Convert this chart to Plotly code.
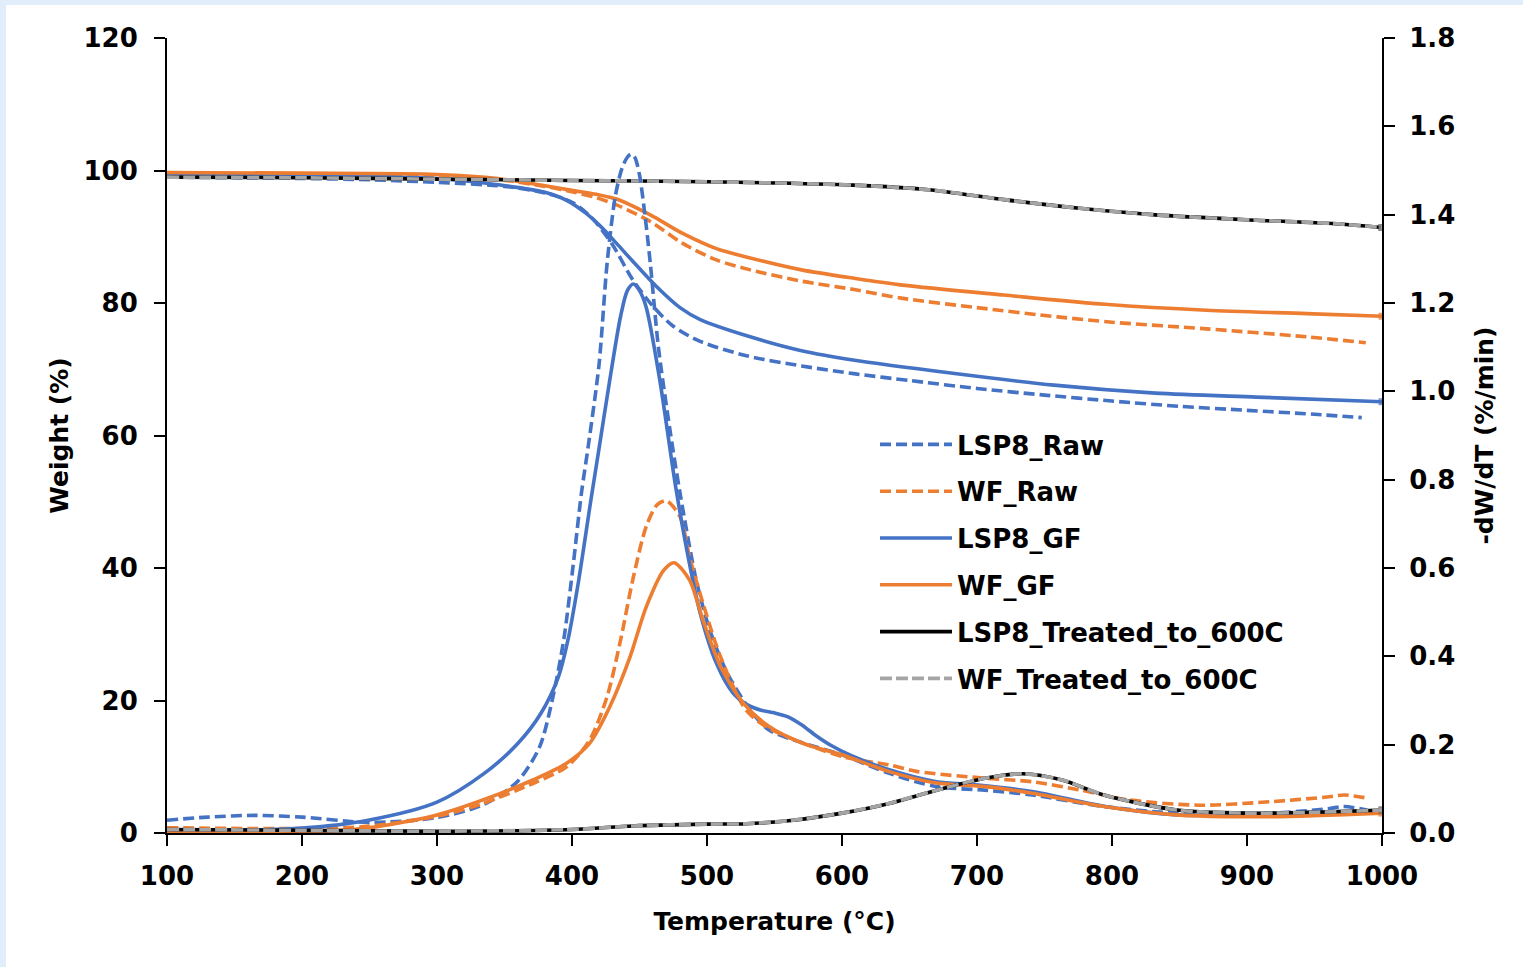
import plotly.graph_objects as go

# ---------------- data ----------------
# Weight (%) curves
lsp8_raw_w_T = [100, 150, 200, 250, 300, 350, 380, 400, 415, 430, 445, 460, 475, 495, 530, 570, 610, 650, 700, 750, 800, 850, 900, 950, 985]
lsp8_raw_w = [99.0, 98.9, 98.8, 98.6, 98.2, 97.6, 96.6, 95.2, 92.8, 88.8, 83.5, 79.5, 76.5, 74.2, 72.0, 70.5, 69.3, 68.3, 67.1, 66.1, 65.2, 64.4, 63.8, 63.2, 62.7]

wf_raw_w_T = [100, 200, 300, 350, 380, 400, 418, 433, 458, 482, 507, 532, 570, 610, 645, 700, 760, 800, 870, 944, 988]
wf_raw_w = [99.5, 99.3, 99.0, 98.5, 97.6, 96.8, 95.9, 94.8, 92.3, 89.0, 86.5, 85.0, 83.3, 82.0, 80.7, 79.3, 77.9, 77.1, 76.1, 74.9, 74.0]

lsp8_gf_w_T = [100, 200, 300, 347, 380, 396, 410, 421, 433, 445, 462, 480, 495, 532, 570, 608, 682, 757, 832, 907, 1000]
lsp8_gf_w = [99.5, 99.3, 98.8, 97.8, 96.7, 95.5, 93.6, 91.6, 89.0, 86.3, 82.6, 79.3, 77.5, 74.9, 72.8, 71.4, 69.4, 67.6, 66.4, 65.8, 65.1]

wf_gf_w_T = [100, 200, 300, 345, 380, 400, 418, 433, 458, 482, 507, 532, 570, 610, 645, 720, 795, 870, 944, 1000]
wf_gf_w = [99.7, 99.6, 99.4, 98.8, 97.7, 97.0, 96.4, 95.7, 93.3, 90.5, 88.2, 86.8, 85.0, 83.7, 82.7, 81.2, 79.8, 78.9, 78.4, 78.0]

lsp8_tr_w_T = [100, 200, 300, 400, 500, 608, 664, 720, 776, 832, 907, 963, 1000]
lsp8_tr_w = [99.0, 98.9, 98.7, 98.5, 98.3, 97.8, 97.1, 95.6, 94.3, 93.3, 92.5, 92.0, 91.4]
wf_tr_w_T = [100, 200, 300, 400, 500, 608, 664, 720, 776, 832, 907, 963, 1000]
wf_tr_w = [99.0, 98.9, 98.7, 98.5, 98.3, 97.8, 97.1, 95.6, 94.3, 93.3, 92.5, 92.0, 91.4]

# -dW/dT (%/min) curves
lsp8_raw_d_T = [100, 130, 165, 200, 250, 300, 335, 360, 376, 386, 394, 401, 407, 412, 420, 426, 432, 437, 441, 443.7, 446.5, 450, 454, 458, 464, 472.6, 480, 492, 502, 515, 532, 546, 570, 600, 635, 670, 706, 741, 794, 848, 918, 960, 972, 989]
lsp8_raw_d = [0.029, 0.036, 0.040, 0.036, 0.024, 0.035, 0.065, 0.118, 0.195, 0.31, 0.44, 0.61, 0.77, 0.875, 1.06, 1.29, 1.44, 1.505, 1.53, 1.537, 1.53, 1.49, 1.40, 1.29, 1.10, 0.912, 0.77, 0.573, 0.46, 0.362, 0.278, 0.233, 0.205, 0.177, 0.135, 0.105, 0.097, 0.086, 0.060, 0.045, 0.045, 0.055, 0.060, 0.052]

wf_raw_d_T = [100, 200, 248, 300, 334, 371, 396, 413, 426, 436, 445, 455, 463, 470, 480, 487, 497, 510, 529, 546, 600, 635, 656, 706, 741, 777, 812, 865, 918, 961, 972, 989]
wf_raw_d = [0.012, 0.010, 0.015, 0.038, 0.067, 0.112, 0.150, 0.210, 0.309, 0.437, 0.573, 0.694, 0.743, 0.752, 0.716, 0.626, 0.520, 0.399, 0.278, 0.237, 0.173, 0.154, 0.139, 0.124, 0.116, 0.097, 0.075, 0.063, 0.071, 0.082, 0.086, 0.079]

lsp8_gf_d_T = [100, 150, 200, 249, 300, 335, 360, 377, 390, 397, 405, 414, 420, 428, 436, 441, 445.4, 450, 455, 465, 477, 487, 495, 507, 519, 530, 540, 550, 560, 570, 580, 592, 607, 635, 670, 699, 741, 795, 848, 901, 954, 1000]
lsp8_gf_d = [0.005, 0.006, 0.011, 0.029, 0.070, 0.135, 0.203, 0.271, 0.354, 0.437, 0.573, 0.754, 0.870, 1.026, 1.17, 1.228, 1.243, 1.228, 1.19, 1.026, 0.78, 0.61, 0.497, 0.384, 0.318, 0.290, 0.278, 0.272, 0.263, 0.245, 0.222, 0.198, 0.175, 0.143, 0.116, 0.109, 0.094, 0.060, 0.041, 0.041, 0.048, 0.048]

wf_gf_d_T = [100, 200, 248, 300, 334, 371, 396, 413, 428, 443, 455, 468, 475.6, 487, 497, 510, 527, 546, 571, 600, 635, 670, 706, 741, 794, 848, 918, 1000]
wf_gf_d = [0.0, 0.002, 0.011, 0.041, 0.075, 0.120, 0.158, 0.203, 0.286, 0.399, 0.512, 0.595, 0.612, 0.573, 0.482, 0.377, 0.294, 0.241, 0.203, 0.177, 0.139, 0.113, 0.105, 0.090, 0.060, 0.041, 0.037, 0.045]

lsp8_tr_d_T = [100, 200, 300, 400, 445, 500, 529, 564, 600, 635, 670, 706, 734, 763, 794, 848, 901, 950, 1000]
lsp8_tr_d = [0.008, 0.006, 0.004, 0.008, 0.016, 0.020, 0.021, 0.029, 0.045, 0.067, 0.097, 0.124, 0.134, 0.120, 0.086, 0.052, 0.045, 0.047, 0.052]
wf_tr_d_T = [100, 200, 300, 400, 445, 500, 529, 564, 600, 635, 670, 706, 734, 763, 794, 848, 901, 950, 1000]
wf_tr_d = [0.008, 0.006, 0.004, 0.008, 0.016, 0.020, 0.021, 0.029, 0.045, 0.067, 0.097, 0.124, 0.134, 0.120, 0.086, 0.052, 0.045, 0.047, 0.052]

x_ticks = [100, 200, 300, 400, 500, 600, 700, 800, 900, 1000]

# ---------------- styling ----------------
BLUE = "#4472C4"
ORANGE = "#ED7D31"
GREY = "#A5A5A5"
BLACK = "#000000"
FONT = "DejaVu Sans"
LW = 3.6
DASH = "11px,5px"

series = [
    ("LSP8_Raw", lsp8_raw_w_T, lsp8_raw_w, lsp8_raw_d_T, lsp8_raw_d, BLUE, DASH, False),
    ("WF_Raw", wf_raw_w_T, wf_raw_w, wf_raw_d_T, wf_raw_d, ORANGE, DASH, False),
    ("LSP8_GF", lsp8_gf_w_T, lsp8_gf_w, lsp8_gf_d_T, lsp8_gf_d, BLUE, "solid", True),
    ("WF_GF", wf_gf_w_T, wf_gf_w, wf_gf_d_T, wf_gf_d, ORANGE, "solid", True),
    ("LSP8_Treated_to_600C", lsp8_tr_w_T, lsp8_tr_w, lsp8_tr_d_T, lsp8_tr_d, BLACK, "solid", True),
    ("WF_Treated_to_600C", wf_tr_w_T, wf_tr_w, wf_tr_d_T, wf_tr_d, GREY, "12px,4px", True),
]

fig = go.Figure()
for name, wT, w, dT, d, color, dash, endmark in series:
    for (xs, ys, yax, show) in [(wT, w, "y", True), (dT, d, "y2", False)]:
        sizes = [0] * (len(xs) - 1) + ([7] if endmark else [0])
        fig.add_trace(go.Scatter(
            x=xs, y=ys, yaxis=yax, name=name, legendgroup=name, showlegend=show,
            mode="lines+markers",
            line=dict(color=color, width=LW, dash=dash, shape="spline", smoothing=0.8),
            marker=dict(symbol="square", size=sizes, color=color, line=dict(width=0)),
        ))

W, H = 1523, 967
L, R, T, B = 167, 141, 38, 134
pw, ph = W - L - R, H - T - B

def px_x(p):
    return (p - L) / pw

def px_y(p):
    return (H - B - p) / ph

tickfont = dict(family=FONT, size=26, color="black", weight="bold")
titlefont = dict(family=FONT, size=25, color="black", weight="bold")

fig.update_layout(
    width=W, height=H, autosize=False,
    margin=dict(l=L, r=R, t=T, b=B, pad=0),
    paper_bgcolor="#e2edfb",
    plot_bgcolor="white",
    showlegend=True,
    legend=dict(
        x=px_x(875), y=px_y(421), xanchor="left", yanchor="top",
        bgcolor="rgba(0,0,0,0)", borderwidth=0,
        font=dict(family=FONT, size=26, color="black", weight="bold"),
        itemwidth=72, tracegroupgap=10,
    ),
    xaxis=dict(
        range=[100, 1000], tickvals=x_ticks, ticktext=[str(v) for v in x_ticks],
        showgrid=False, zeroline=False, showline=True, linecolor="black", linewidth=2,
        ticks="outside", ticklen=11, tickwidth=2, tickcolor="black",
        tickfont=tickfont, ticklabelstandoff=8,
        title=dict(text="Temperature (°C)", font=titlefont, standoff=22),
    ),
    yaxis=dict(
        range=[0, 120], dtick=20, showgrid=False, zeroline=False,
        showline=True, linecolor="black", linewidth=2,
        ticks="outside", ticklen=11, tickwidth=2, tickcolor="black",
        tickfont=tickfont, ticklabelstandoff=11,
        title=dict(text="Weight (%)", font=titlefont, standoff=8),
    ),
    yaxis2=dict(
        range=[0, 1.8], dtick=0.2, tickformat=".1f", overlaying="y", side="right",
        showgrid=False, zeroline=False, showline=True, linecolor="black", linewidth=2,
        ticks="outside", ticklen=11, tickwidth=2, tickcolor="black",
        tickfont=tickfont, ticklabelstandoff=9,
        title=dict(text="-dW/dT (%/min)", font=titlefont, standoff=21),
    ),
    shapes=[dict(
        type="rect", xref="paper", yref="paper", layer="below",
        x0=px_x(6), x1=px_x(W + 5), y0=px_y(H + 5), y1=px_y(5),
        fillcolor="white", line=dict(width=0),
    )],
)

fig.write_html(
    "out.html",
    config={"displayModeBar": False},
    post_script="document.body.style.margin='0';document.body.style.overflow='hidden';",
)
